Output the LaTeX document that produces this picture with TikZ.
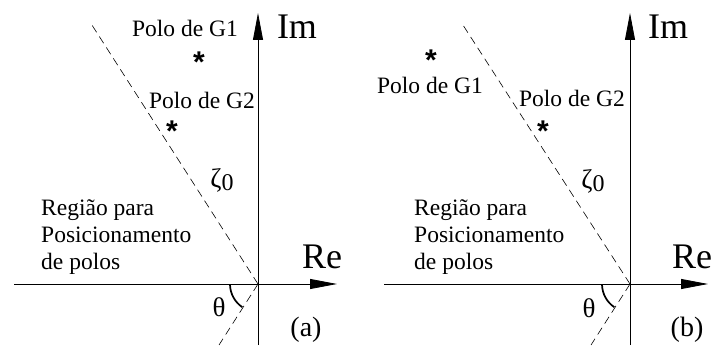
\documentclass[tikz,border=0pt]{standalone}
\usepackage{fontspec}
\setmainfont{Liberation Serif}
\newfontfamily\astfont{Liberation Sans}
\usetikzlibrary{arrows.meta}
\begin{document}
\begin{tikzpicture}[x=1pt,y=1pt,
  axis/.style={line width=0.8pt,-{Triangle[length=27pt,width=10pt]}},
  zetaline/.style={line width=0.6pt,dash pattern=on 8pt off 5pt},
  anglearc/.style={line width=1.7pt},
  lbl/.style={inner sep=0pt,font=\fontsize{23.5}{27}\selectfont},
  tag/.style={inner sep=0pt,font=\fontsize{28}{32}\selectfont},
  big/.style={inner sep=0pt,font=\fontsize{36}{40}\selectfont},
  ast/.style={inner sep=0pt,font=\astfont\bfseries\fontsize{30}{30}\selectfont},
  region/.style={inner sep=0pt,align=left,anchor=west,font=\fontsize{23.5}{27}\selectfont},
  greek/.style={inner sep=0pt,font=\fontsize{27}{30}\selectfont}]
\useasboundingbox (0,0) rectangle (714,345);
% ---------- panel (a)
\coordinate (Oa) at (258,61);
\coordinate (YaB) at (258,0);
\coordinate (YaT) at (258,332);
\coordinate (XaL) at (14,61);
\coordinate (XaR) at (337,61);
\coordinate (DaT) at (90,323);
\coordinate (DaB) at (219,0);
\draw[axis] (YaB) -- (YaT);
\draw[axis] (XaL) -- (XaR);
\draw[zetaline] (Oa) -- (DaT);
\draw[zetaline] (Oa) -- (DaB);
\draw[anglearc] ([shift={(182:28)}]Oa) arc[start angle=182,end angle=236,radius=28];
\node[lbl] (pg1a) at (185,317) {Polo de G1};
\node[ast] (s1a) at (199,283) {*};
\node[lbl] (pg2a) at (202,245) {Polo de G2};
\node[ast] (s2a) at (172,214) {*};
\node[greek] (za) at (222,165) {ζ\raisebox{-3pt}{\fontsize{24}{24}\selectfont 0}};
\node[region] (ra) at (41,108) {Região para\\Posicionamento\\de polos};
\node[big] (ima) at (297,318) {Im};
\node[big] (rea) at (322,88) {Re};
\node[greek] (tha) at (219,38) {θ};
\node[tag] (pa) at (306,15) {(a)};
% ---------- panel (b)
\coordinate (Ob) at (630,61);
\coordinate (YbB) at (630,0);
\coordinate (YbT) at (630,332);
\coordinate (XbL) at (384,61);
\coordinate (XbR) at (708,61);
\coordinate (DbT) at (461,323);
\coordinate (DbB) at (591,0);
\draw[axis] (YbB) -- (YbT);
\draw[axis] (XbL) -- (XbR);
\draw[zetaline] (Ob) -- (DbT);
\draw[zetaline] (Ob) -- (DbB);
\draw[anglearc] ([shift={(182:28)}]Ob) arc[start angle=182,end angle=236,radius=28];
\node[lbl] (pg1b) at (430,260) {Polo de G1};
\node[ast] (s1b) at (431,285) {*};
\node[lbl] (pg2b) at (572,247) {Polo de G2};
\node[ast] (s2b) at (543,214) {*};
\node[greek] (zb) at (593,164) {ζ\raisebox{-3pt}{\fontsize{24}{24}\selectfont 0}};
\node[region] (rb) at (414,108) {Região para\\Posicionamento\\de polos};
\node[big] (imb) at (668,318) {Im};
\node[big] (reb) at (692,88) {Re};
\node[greek] (thb) at (589,37) {θ};
\node[tag] (pb) at (687,15) {(b)};
\end{tikzpicture}
\end{document}
